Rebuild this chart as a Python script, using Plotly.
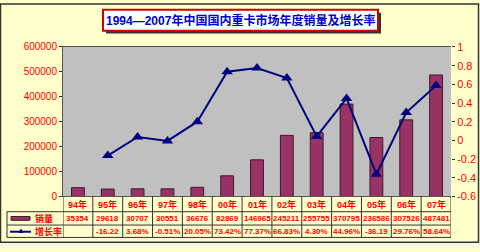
import plotly.graph_objects as go

categories = ["94年", "95年", "96年", "97年", "98年", "00年", "01年", "02年", "03年", "04年", "05年", "06年", "07年"]
sales = [35354, 29618, 30707, 30551, 36676, 82869, 146965, 245211, 255755, 370795, 236586, 307526, 487481]
growth = [None, -0.1622, 0.0368, -0.0051, 0.2005, 0.7342, 0.7737, 0.6683, 0.0430, 0.4496, -0.3619, 0.2976, 0.5864]
sales_labels = ["35354", "29618", "30707", "30551", "36676", "82869", "146965", "245211", "255755", "370795", "236586", "307526", "487481"]
growth_labels = ["", "-16.22", "3.68%", "-0.51%", "20.05%", "73.42%", "77.37%", "66.83%", "4.30%", "44.96%", "-36.19", "29.76%", "58.64%"]
left_ticks = [0, 100000, 200000, 300000, 400000, 500000, 600000]
right_ticks = [-0.6, -0.4, -0.2, 0, 0.2, 0.4, 0.6, 0.8, 1]
right_tick_text = ["-0.6", "-0.4", "-0.2", "0", "0.2", "0.4", "0.6", "0.8", "1"]
title_text = "1994—2007年中国国内重卡市场年度销量及增长率"

W, H = 480, 252
def px(x):
    return x / W
def py(y):
    return 1 - y / H

RED = "#FF0000"
BAR = "#993366"
NAVY = "#000080"
FONT = "Liberation Sans, Arial, Noto Sans CJK SC"

fig = go.Figure()
fig.add_trace(go.Bar(x=categories, y=sales, marker=dict(color=BAR, line=dict(color="#3a1a2a", width=1)),
                     width=0.43, yaxis="y", showlegend=False))
fig.add_trace(go.Scatter(x=categories, y=growth, mode="lines+markers", yaxis="y2",
                         line=dict(color=NAVY, width=2),
                         marker=dict(symbol="triangle-up", size=10, color=NAVY),
                         showlegend=False, connectgaps=False))

x0, x1 = 63, 451
ytop, ybot = 43, 200
fig.update_layout(
    width=W, height=H, margin=dict(l=0, r=0, t=0, b=0),
    paper_bgcolor="#FFFFCC", plot_bgcolor="#C0C0C0",
    bargap=0.5,
    xaxis=dict(domain=[px(x0), px(x1)], type="category", range=[-0.5, 12.5],
               showticklabels=False, showline=True, linecolor="#555555", linewidth=1,
               showgrid=False, mirror=True, ticks=""),
    yaxis=dict(domain=[py(ybot), py(ytop)], range=[0, 600000], tickvals=left_ticks,
               ticktext=[str(v) for v in left_ticks],
               tickfont=dict(color=RED, size=10, family=FONT), showgrid=False,
               showline=True, linecolor="#555555", linewidth=1, ticks="outside", ticklen=3,
               tickcolor="#333333", zeroline=False),
    yaxis2=dict(overlaying="y", side="right", anchor="x", range=[-0.6, 1], tickvals=right_ticks,
                ticktext=right_tick_text, tickfont=dict(color=RED, size=11, family=FONT),
                showgrid=False, zeroline=False, showline=False, ticks="outside", ticklen=3,
                tickcolor="#333333"),
)

shapes = []
# outer frame
shapes.append(dict(type="rect", xref="paper", yref="paper", x0=px(0.5), x1=px(478.5), y0=py(248), y1=py(-2),
                   line=dict(color="#333333", width=1.5), fillcolor="rgba(0,0,0,0)", layer="below"))
shapes.append(dict(type="rect", xref="paper", yref="paper", x0=0, x1=1, y0=0, y1=py(249),
                   line=dict(width=0), fillcolor="#F4F4EC", layer="below"))
# title box shadow + box
shapes.append(dict(type="rect", xref="paper", yref="paper", x0=px(106), x1=px(381), y0=py(29), y1=py(7),
                   line=dict(width=0), fillcolor="#333333"))
shapes.append(dict(type="rect", xref="paper", yref="paper", x0=px(103), x1=px(378), y0=py(26), y1=py(4),
                   line=dict(color="#CC0000", width=2), fillcolor="#FFFFFF"))
# table lines
row1, row2, row3 = 216, 230, 243
lc = dict(color="#333333", width=1)
for yy in (row1, row2, row3):
    shapes.append(dict(type="line", xref="paper", yref="paper", x0=px(7), x1=px(x1), y0=py(yy), y1=py(yy), line=lc))
shapes.append(dict(type="line", xref="paper", yref="paper", x0=px(7), x1=px(7), y0=py(row1), y1=py(row3), line=lc))
for i in range(len(categories) + 1):
    xv = i - 0.5
    shapes.append(dict(type="line", xref="x", yref="paper", x0=xv, x1=xv, y0=py(ybot), y1=py(row3), line=lc))
# legend symbols
shapes.append(dict(type="rect", xref="paper", yref="paper", x0=px(11), x1=px(30), y0=py(225), y1=py(221),
                   fillcolor=BAR, line=dict(color="#3a1a2a", width=1)))
shapes.append(dict(type="line", xref="paper", yref="paper", x0=px(10), x1=px(31), y0=py(237), y1=py(237),
                   line=dict(color=NAVY, width=2)))
fig.update_layout(shapes=shapes)

ann = []
ann.append(dict(text="<b>" + title_text + "</b>", xref="paper", yref="paper", x=px(240.5), y=py(15),
                showarrow=False, font=dict(color="#0000CC", size=12, family=FONT), xanchor="center", yanchor="middle"))
for i, c in enumerate(categories):
    ann.append(dict(text="<b>" + c + "</b>", xref="x", yref="paper", x=c, y=py(208), showarrow=False,
                    font=dict(color=RED, size=9, family=FONT), xanchor="center", yanchor="middle"))
    ann.append(dict(text="<b>" + sales_labels[i] + "</b>", xref="x", yref="paper", x=c, y=py(223.5), showarrow=False,
                    font=dict(color=RED, size=8, family=FONT), xanchor="center", yanchor="middle"))
    if growth_labels[i]:
        ann.append(dict(text="<b>" + growth_labels[i] + "</b>", xref="x", yref="paper", x=c, y=py(237), showarrow=False,
                        font=dict(color=RED, size=8, family=FONT), xanchor="center", yanchor="middle"))
ann.append(dict(text="<b>销量</b>", xref="paper", yref="paper", x=px(33), y=py(223.5), showarrow=False,
                font=dict(color=RED, size=9, family=FONT), xanchor="left", yanchor="middle"))
ann.append(dict(text="<b>增长率</b>", xref="paper", yref="paper", x=px(33), y=py(237), showarrow=False,
                font=dict(color=RED, size=9, family=FONT), xanchor="left", yanchor="middle"))
ann.append(dict(text="▲", xref="paper", yref="paper", x=px(20.5), y=py(236), showarrow=False,
                font=dict(color=NAVY, size=8, family=FONT), xanchor="center", yanchor="middle"))
fig.update_layout(annotations=ann)

fig.write_html("out.html")
